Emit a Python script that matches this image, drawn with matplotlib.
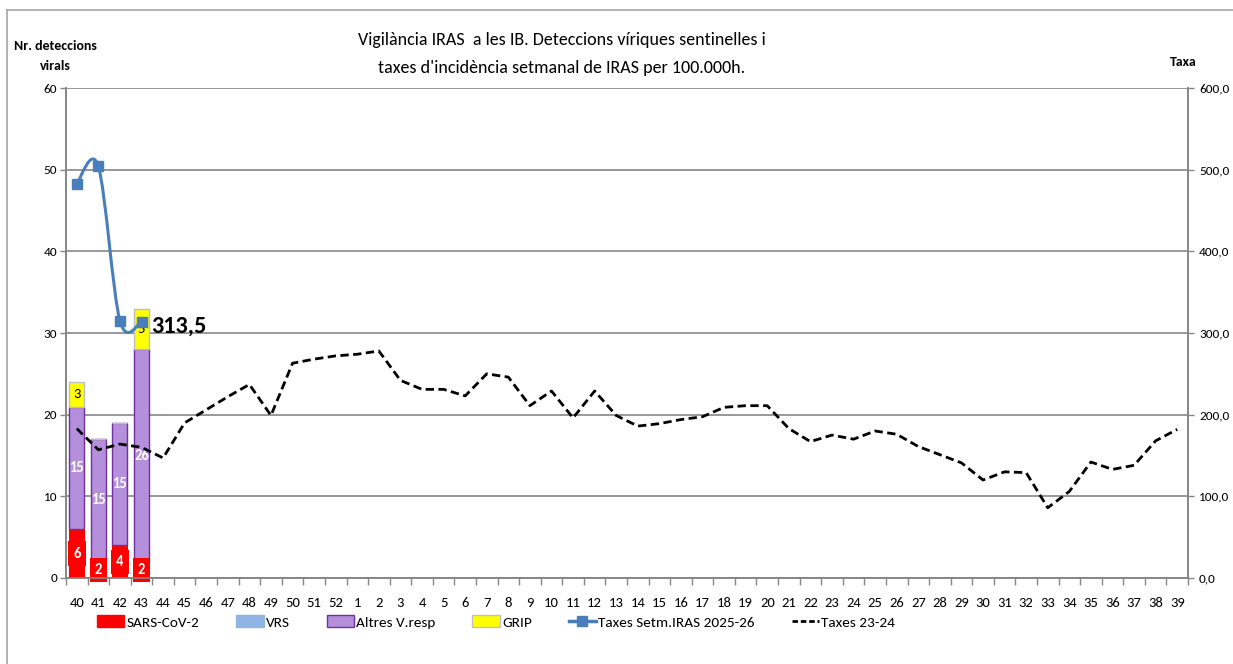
import matplotlib
matplotlib.use("Agg")
import matplotlib.pyplot as plt
from matplotlib.patches import Patch
from matplotlib.lines import Line2D
from matplotlib.path import Path
from matplotlib.patches import PathPatch
import numpy as np

plt.rcParams['font.family'] = ['Carlito', 'DejaVu Sans']

weeks = [str(w) for w in list(range(40, 53)) + list(range(1, 40))]

# bar series (first four weeks)
sars = [6, 2, 4, 2]
vrs = [0, 0, 0, 0]
altres = [15, 15, 15, 26]
grip = [3, 0, 0, 5]

# rate series
taxes_2526 = [483, 504, 315, 313.5]
taxes_2324 = [183, 157, 164, 160, 147, 190, 206, 222, 237, 199, 263, 268, 272, 274, 278,
              242, 231, 231, 223, 250, 246, 211, 229, 196, 229, 199, 186, 189, 194, 197.5,
              209, 211, 211, 183, 167, 175, 170, 180, 176, 161, 151, 141, 120, 130, 129,
              86, 106, 142, 133, 138, 168, 182]

C_RED = '#FF0000'
C_VRS = '#8DB4E2'
C_ALT = '#B58FDC'
C_ALT_E = '#7030A0'
C_YEL = '#FFFF00'
C_YEL_E = '#BFBFBF'
C_BLUE = '#4A7EBB'
C_GRID = '#868686'

fig = plt.figure(figsize=(12.33, 6.64), dpi=100)
ax = fig.add_axes([66/1233, 1-578/664, (1188-66)/1233, (578-88)/664])
ax2 = ax.twinx()

x = np.arange(len(weeks))
nb = len(sars)
xb = x[:nb]
w = 0.7
s = np.array(sars, float)
v = np.array(vrs, float)
a = np.array(altres, float)
g = np.array(grip, float)
ax.bar(xb, s, w, color=C_RED, edgecolor=C_RED, lw=0.8, zorder=3)
ax.bar(xb, v, w, bottom=s, color=C_VRS, edgecolor=C_VRS, lw=0.8, zorder=3)
ax.bar(xb, a, w, bottom=s + v, color=C_ALT, edgecolor=C_ALT_E, lw=1.0, zorder=3)
ax.bar(xb, g, w, bottom=s + v + a, color=C_YEL, edgecolor=C_YEL_E, lw=1.0, zorder=3)

for i in range(nb):
    if s[i] > 0:
        ax.text(xb[i], s[i] / 2, str(sars[i]), ha='center', va='center', color='white',
                fontsize=10.5, fontweight='bold', zorder=5,
                bbox=dict(boxstyle='square,pad=0.35', fc=C_RED, ec='none'))
    if a[i] > 0:
        ax.text(xb[i], s[i] + v[i] + a[i] / 2, str(altres[i]), ha='center', va='center',
                color='white', fontsize=10.5, fontweight='bold', zorder=5)
    if g[i] > 0:
        ax.text(xb[i], s[i] + v[i] + a[i] + g[i] / 2, str(grip[i]), ha='center', va='center',
                color='black', fontsize=10.5, zorder=5)

ax.set_xlim(-0.5, len(weeks) - 0.5)
ax.set_ylim(0, 60)
ax.set_yticks(range(0, 61, 10))
ax.yaxis.grid(True, color=C_GRID, lw=1.2, zorder=0)
ax.set_axisbelow(True)
ax.set_xticks(x)
ax.set_xticklabels(weeks, fontsize=10.5)
ax.set_xticks(np.arange(-0.5, len(weeks), 1), minor=True)
ax.tick_params(axis='x', which='major', length=0, pad=14)
ax.tick_params(axis='x', which='minor', length=5, color=C_GRID, width=1)
ax.tick_params(axis='y', length=4, color=C_GRID, labelsize=9.5, width=1, pad=2.5)

ax2.set_ylim(0, 600)
ax2.set_yticks(range(0, 601, 100))
ax2.set_yticklabels([f"{t},0" for t in range(0, 601, 100)])
ax2.tick_params(axis='y', length=4, color=C_GRID, labelsize=9.5, width=1, pad=4)

for axx in (ax, ax2):
    axx.spines['top'].set_visible(False)
    for sp in ['left', 'right', 'bottom']:
        axx.spines[sp].set_color(C_GRID)
        axx.spines[sp].set_linewidth(1.2)

# dashed line 23-24
ax2.plot(x, taxes_2324, color='black', ls=(0, (3, 1.6)), lw=2, zorder=4)

# smoothed 2025-26 line (Bezier through the points)
px = x[:len(taxes_2526)].astype(float)
py = np.array(taxes_2526, float)
pts = np.column_stack([px, py])
n = len(pts)
verts = [pts[0]]
codes = [Path.MOVETO]
for i in range(n - 1):
    p0 = pts[i - 1] if i > 0 else pts[i]
    p1 = pts[i]
    p2 = pts[i + 1]
    p3 = pts[i + 2] if i + 2 < n else pts[i + 1]
    c1 = p1 + (p2 - p0) / 6
    c2 = p2 - (p3 - p1) / 6
    verts += [c1, c2, p2]
    codes += [Path.CURVE4] * 3
ax2.add_patch(PathPatch(Path(verts, codes), fc='none', ec=C_BLUE, lw=2.2, zorder=5))
ax2.plot(px, py, ls='none', marker='s', ms=7, color=C_BLUE, zorder=6)
ax2.annotate(f"{taxes_2526[-1]:.1f}".replace('.', ','), (px[-1], py[-1]),
             xytext=(7, -3), textcoords='offset points', fontsize=17.5, fontweight='bold',
             ha='left', va='center', zorder=7)

# titles
fig.text(562/1233, 1-40/664, "Vigilància IRAS  a les IB. Deteccions víriques sentinelles i",
         ha='center', va='center', fontsize=13)
fig.text(562/1233, 1-68/664, "taxes d'incidència setmanal de IRAS per 100.000h.",
         ha='center', va='center', fontsize=13)
fig.text(55/1233, 1-46/664, "Nr. deteccions", ha='center', va='center', fontsize=10, fontweight='bold')
fig.text(55/1233, 1-66/664, "virals", ha='center', va='center', fontsize=10, fontweight='bold')
fig.text(1183/1233, 1-62/664, "Taxa", ha='center', va='center', fontsize=10, fontweight='bold')

# chart-area frame lines
fig.add_artist(Line2D([7/1233, 7/1233], [0, 1-10/664], color='#A6A6A6', lw=1.2,
                      transform=fig.transFigure))
fig.add_artist(Line2D([7/1233, 1], [1-10/664, 1-10/664], color='#A6A6A6', lw=1.2,
                      transform=fig.transFigure))

handles = [Patch(fc=C_RED, ec=C_RED), Patch(fc=C_VRS, ec=C_VRS),
           Patch(fc=C_ALT, ec=C_ALT_E), Patch(fc=C_YEL, ec=C_YEL_E),
           Line2D([], [], color=C_BLUE, lw=2.5, marker='s', ms=7),
           Line2D([], [], color='black', lw=2, ls=(0, (2, 1)))]
labels = ['SARS-CoV-2', 'VRS', 'Altres V.resp', 'GRIP', 'Taxes Setm.IRAS 2025-26', 'Taxes 23-24']
fig.legend(handles, labels, loc='center', bbox_to_anchor=(496/1233, 1-622/664), ncol=6,
           frameon=False, fontsize=11, handlelength=1.8, handleheight=0.8,
           handletextpad=0.15, columnspacing=2.4)

fig.savefig("out.png", dpi=100)
